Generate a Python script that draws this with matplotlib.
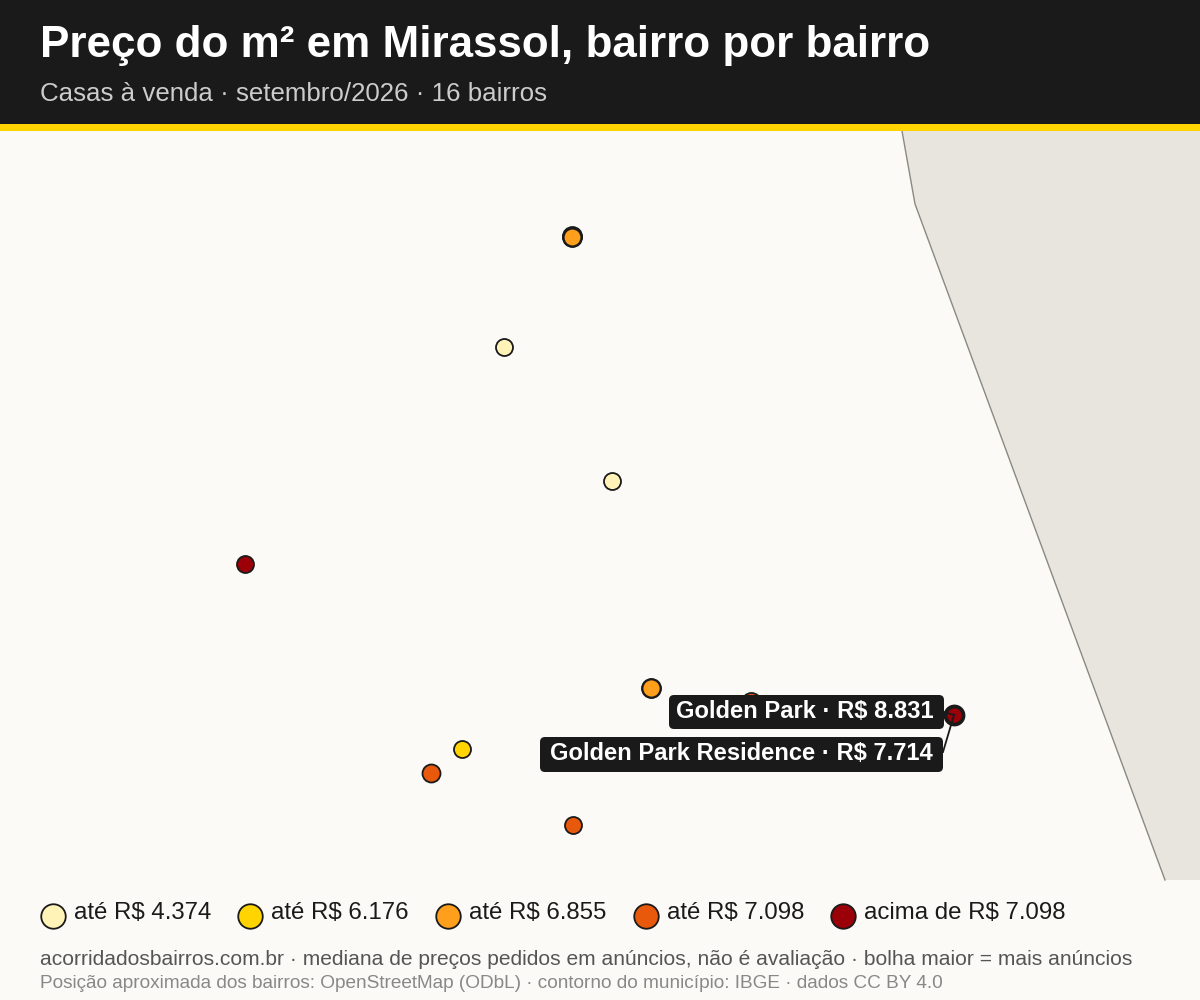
#!/usr/bin/env python3
import matplotlib
matplotlib.use('Agg')
import matplotlib.pyplot as plt
from matplotlib.patches import FancyBboxPatch, Polygon, Rectangle

plt.rcParams['font.family'] = ['Liberation Sans', 'DejaVu Sans']

PX = 72 / 100  # px -> pt at dpi 100

# cores das faixas
faixas = ['até R$ 4.374', 'até R$ 6.176', 'até R$ 6.855', 'até R$ 7.098', 'acima de R$ 7.098']
cores = ['#FFF3B8', '#FFD400', '#FF9F1C', '#E8590C', '#9B0008']
legenda_x = [53, 250, 448, 646, 843]

# bairros (posicao na tela, raio, faixa)
bairro_x = [572, 572, 572, 504, 612, 245, 651, 651, 751, 954, 954, 954, 462, 431, 573]
bairro_y = [236, 237, 237, 347, 481, 564, 688, 688, 702, 715, 715, 715, 749, 773, 825]
bairro_r = [9.5, 9.5, 8.8, 8.5, 8.5, 8.5, 9.5, 9, 9.5, 10, 9, 8, 8.5, 9, 8.5]
bairro_faixa = [1, 2, 2, 0, 0, 4, 2, 2, 3, 4, 4, 4, 1, 3, 3]

# contorno do municipio
contorno_x = [902, 915, 1165, 1200, 1200]
contorno_y = [131, 204, 880, 880, 131]

rotulos = ['Golden Park · R$ 8.831', 'Golden Park Residence · R$ 7.714']
rotulo_dir = [934, 933]
rotulo_y = [711, 753]
caixas = [(669, 695, 275, 34), (540, 737, 403, 35)]

fig = plt.figure(figsize=(12, 10), dpi=100, facecolor='#FCFAF6')
ax = fig.add_axes([0, 0, 1, 1])
ax.set_xlim(0, 1200)
ax.set_ylim(1000, 0)
ax.axis('off')

# cabecalho
ax.add_patch(Rectangle((0, 0), 1200, 124, facecolor='#1A1A1A', edgecolor='none', zorder=5))
ax.add_patch(Rectangle((0, 124), 1200, 7, facecolor='#FFD400', edgecolor='none', zorder=5))
ax.text(40, 46, 'Preço do m² em Mirassol, bairro por bairro', color='white', fontsize=44 * PX,
        fontweight='bold', va='center', ha='left', zorder=6)
ax.text(40, 94, 'Casas à venda · setembro/2026 · 16 bairros', color='#CCCCCC', fontsize=25.9 * PX,
        va='center', ha='left', zorder=6)

# municipio
ax.add_patch(Polygon(list(zip(contorno_x, contorno_y)), closed=True, facecolor='#E8E5DE',
                     edgecolor='none', zorder=1))
ax.plot(contorno_x[:3], contorno_y[:3], color='#8A8A80', lw=1.0, zorder=2)

# bolhas
for x, y, r, f in zip(bairro_x, bairro_y, bairro_r, bairro_faixa):
    ax.scatter([x], [y], s=(2 * r * PX) ** 2, color=cores[f], edgecolors='#1A1A1A',
               linewidths=1.3, zorder=3)

# linhas de chamada
ax.plot([954, 943], [715, 752], color='#1A1A1A', lw=1.3, zorder=4)
ax.plot([954, 944], [715, 712], color='#1A1A1A', lw=1.3, zorder=4)

# rotulos
for txt, xd, y, (cx, cy, cw, ch) in zip(rotulos, rotulo_dir, rotulo_y, caixas):
    ax.add_patch(FancyBboxPatch((cx + 5, cy + 5), cw - 10, ch - 10,
                                boxstyle='round,pad=5,rounding_size=5',
                                facecolor='#1A1A1A', edgecolor='none', zorder=5))
    ax.text(xd, y, txt, color='white', fontsize=23.7 * PX, fontweight='bold',
            ha='right', va='center', zorder=6)

# legenda
for x, rot, cor in zip(legenda_x, faixas, cores):
    ax.scatter([x], [916], s=(24.5 * PX) ** 2, color=cor, edgecolors='#1A1A1A',
               linewidths=1.3, zorder=3)
    ax.text(x + 21, 913, rot, color='#1A1A1A', fontsize=24 * PX, va='center', ha='left')

# rodape
ax.text(40, 959.5, 'acorridadosbairros.com.br · mediana de preços pedidos em anúncios, não é avaliação · bolha maior = mais anúncios',
        color='#555555', fontsize=20.95 * PX, va='center', ha='left')
ax.text(40, 984, 'Posição aproximada dos bairros: OpenStreetMap (ODbL) · contorno do município: IBGE · dados CC BY 4.0',
        color='#888888', fontsize=19 * PX, va='center', ha='left')

fig.savefig('out.png', dpi=100, facecolor=fig.get_facecolor())
